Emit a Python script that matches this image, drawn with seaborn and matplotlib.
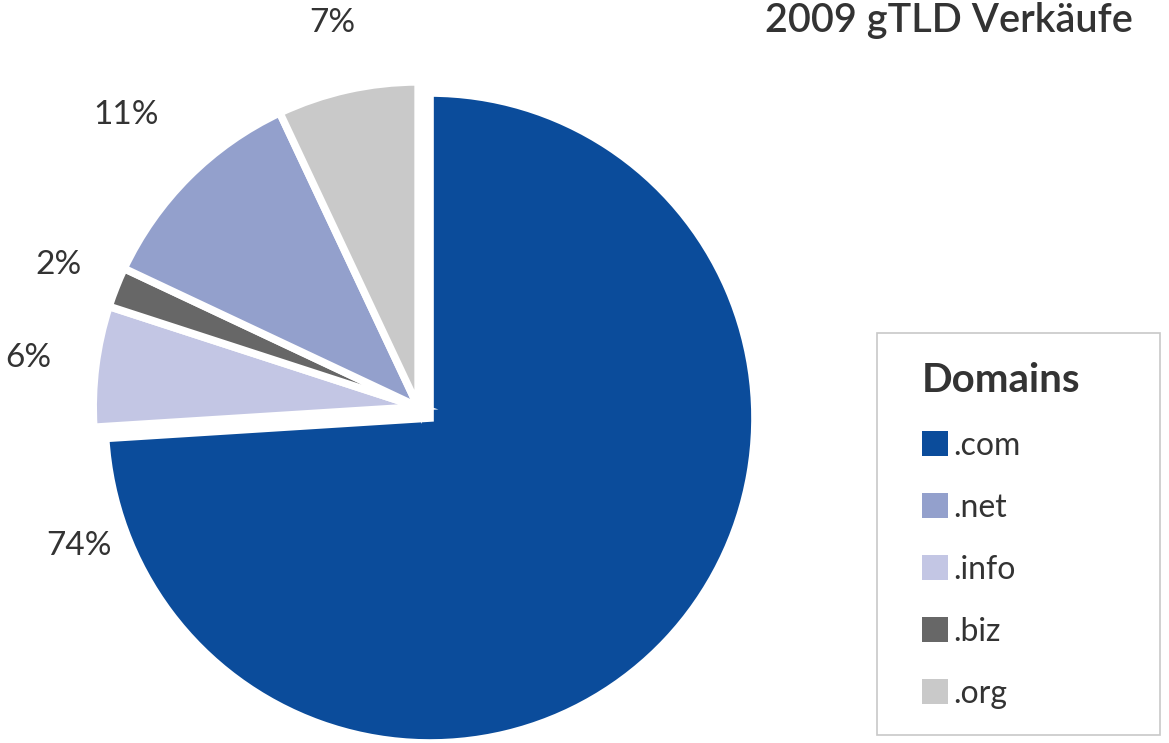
import matplotlib
matplotlib.use('Agg')
import numpy as np
import matplotlib.pyplot as plt
import seaborn as sns
from matplotlib.patches import Patch, Rectangle

# ---- data ----
domains = ['.com', '.info', '.biz', '.net', '.org']
shares = [74, 6, 2, 11, 7]
pct_labels = ['74%', '6%', '2%', '11%', '7%']
legend_order = ['.com', '.net', '.info', '.biz', '.org']
chart_title = '2009 gTLD Verkäufe'
legend_title = 'Domains'

palette = sns.color_palette(['#0b4c9b', '#c3c6e4', '#676767', '#93a0cc', '#c9c9c9'])
color_map = dict(zip(domains, palette))

sns.set_theme(style='white')
plt.rcParams['font.family'] = ['Lato', 'DejaVu Sans']
TXT = '#333333'

W, H, DPI = 1169, 743, 100
fig = plt.figure(figsize=(W / DPI, H / DPI), dpi=DPI)
fig.patch.set_facecolor('white')
ax = fig.add_axes([0, 0, 1, 1])
ax.set_axis_off()

explode = [0.05, 0, 0, 0, 0]
wedges, _ = ax.pie(shares, colors=[color_map[d] for d in domains],
                   startangle=90, counterclock=False, explode=explode,
                   wedgeprops=dict(edgecolor='white', linewidth=5.5))

# layout: place the .com apex at a chosen pixel position, equal scale
scale = 325.0  # pixels per radius unit
apex_px = (430, 418)
cx, cy = wedges[0].center
ax.set_aspect('auto')
ax.set_xlim(cx - apex_px[0] / scale, cx + (W - apex_px[0]) / scale)
ax.set_ylim(cy - (H - apex_px[1]) / scale, cy + apex_px[1] / scale)

# percentage labels
label_dist = [1.15, 1.21, 1.19, 1.27, 1.21]
for i, w in enumerate(wedges):
    if i == 0:
        ang = np.deg2rad(200)
    else:
        ang = np.deg2rad((w.theta1 + w.theta2) / 2)
    x0, y0 = w.center
    ax.text(x0 + label_dist[i] * np.cos(ang), y0 + label_dist[i] * np.sin(ang),
            pct_labels[i], ha='center', va='center', fontsize=24, color=TXT)

# title
fig.text(765 / W, 1 - 32 / H, chart_title, ha='left', va='baseline',
         fontsize=28.5, fontweight='semibold', color=TXT)

# legend
handles = [Patch(facecolor=color_map[d], edgecolor='none', label=d) for d in legend_order]
leg = fig.legend(handles=handles, title=legend_title, loc='upper left',
                 bbox_to_anchor=(922 / W, 1 - 362 / H), frameon=False,
                 fontsize=23, title_fontproperties={'size': 29, 'weight': 'bold'},
                 handlelength=0.82, handleheight=0.82, handletextpad=0.15,
                 labelspacing=1.0, borderpad=0, borderaxespad=0, alignment='left')
for t in leg.get_texts():
    t.set_color(TXT)
leg.get_title().set_color(TXT)

fig.add_artist(Rectangle((877 / W, 1 - 735 / H), (1160 - 877) / W, (735 - 333) / H,
                         transform=fig.transFigure, fill=False,
                         edgecolor='#c8c8c8', linewidth=1.2))

fig.savefig('out.png', dpi=DPI)
